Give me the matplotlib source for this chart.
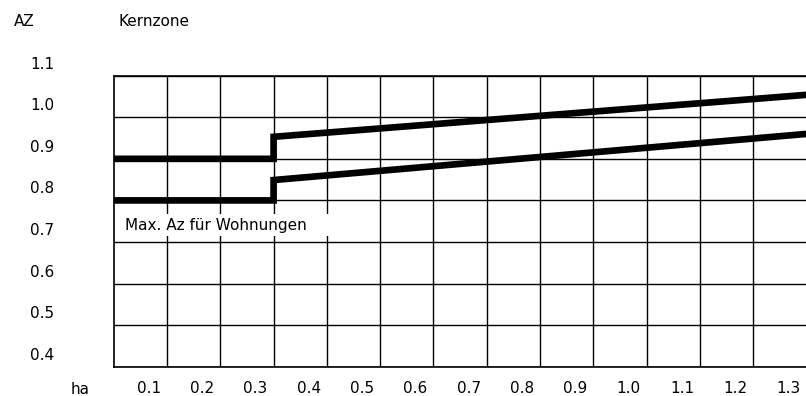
import matplotlib
matplotlib.use("Agg")
import matplotlib.pyplot as plt
from matplotlib.transforms import ScaledTranslation
from matplotlib.patches import Rectangle

# Data
ha_values = [0.0, 0.3, 0.3, 1.3]
az_upper = [0.90, 0.90, 0.953, 1.054]
az_lower = [0.80, 0.80, 0.849, 0.960]

x_ticks = [0.1, 0.2, 0.3, 0.4, 0.5, 0.6, 0.7, 0.8, 0.9, 1.0, 1.1, 1.2, 1.3]
x_labels = ["0.1", "0.2", "0.3", "0.4", "0.5", "0.6", "0.7", "0.8", "0.9", "1.0", "1.1", "1.2", "1.3"]
y_ticks = [0.4, 0.5, 0.6, 0.7, 0.8, 0.9, 1.0, 1.1]
y_labels = ["0.4", "0.5", "0.6", "0.7", "0.8", "0.9", "1.0", "1.1"]

title_text = "Kernzone"
y_name = "AZ"
x_name = "ha"
note_text = "Max. Az für Wohnungen"

plt.rcParams['font.family'] = ['DejaVu Sans']
FS = 11

W, H, DPI = 806, 396, 100
fig = plt.figure(figsize=(W / DPI, H / DPI), dpi=DPI)
fig.patch.set_facecolor("white")

left_px, right_px, top_px, bot_px = 113.7, 806.6, 75.7, 366.7
ax = fig.add_axes([left_px / W, 1 - bot_px / H, (right_px - left_px) / W, (bot_px - top_px) / H])
ax.set_xlim(0, 1.3)
ax.set_ylim(0.4, 1.1)

ax.set_xticks(x_ticks)
ax.set_xticklabels(x_labels, fontsize=FS)
ax.set_yticks(y_ticks)
ax.set_yticklabels(y_labels, fontsize=FS)
ax.tick_params(axis="both", length=0)
ax.tick_params(axis="x", pad=10.5)
ax.tick_params(axis="y", pad=43)

for lab in ax.get_xticklabels():
    lab.set_transform(lab.get_transform() + ScaledTranslation(-18 / DPI, 0, fig.dpi_scale_trans))
for lab in ax.get_yticklabels():
    lab.set_transform(lab.get_transform() + ScaledTranslation(0, 13 / DPI, fig.dpi_scale_trans))

ax.grid(True, color="black", linewidth=1.0)
ax.set_axisbelow(True)
for side in ["top", "bottom", "left"]:
    ax.spines[side].set_linewidth(1.2)
    ax.spines[side].set_color("black")
ax.spines["right"].set_visible(False)

ax.plot(ha_values, az_upper, color="black", linewidth=4.8, solid_joinstyle="miter",
        solid_capstyle="butt", zorder=5, clip_on=False)
ax.plot(ha_values, az_lower, color="black", linewidth=4.8, solid_joinstyle="miter",
        solid_capstyle="butt", zorder=5, clip_on=False)

# white label box
ax.add_patch(Rectangle((0.002, 0.714), 0.404, 0.053, facecolor="white", edgecolor="none", zorder=3))
ax.text(0.021, 0.7405, note_text, fontsize=FS, ha="left", va="center", zorder=4)

fig.text(24.5 / W, 1 - 22 / H, y_name, fontsize=FS, ha="center", va="center")
fig.text(118 / W, 1 - 22 / H, title_text, fontsize=FS, ha="left", va="center")
fig.text(80 / W, 1 - 389 / H, x_name, fontsize=FS, ha="center", va="center")

fig.savefig("out.png", dpi=DPI, facecolor="white")
